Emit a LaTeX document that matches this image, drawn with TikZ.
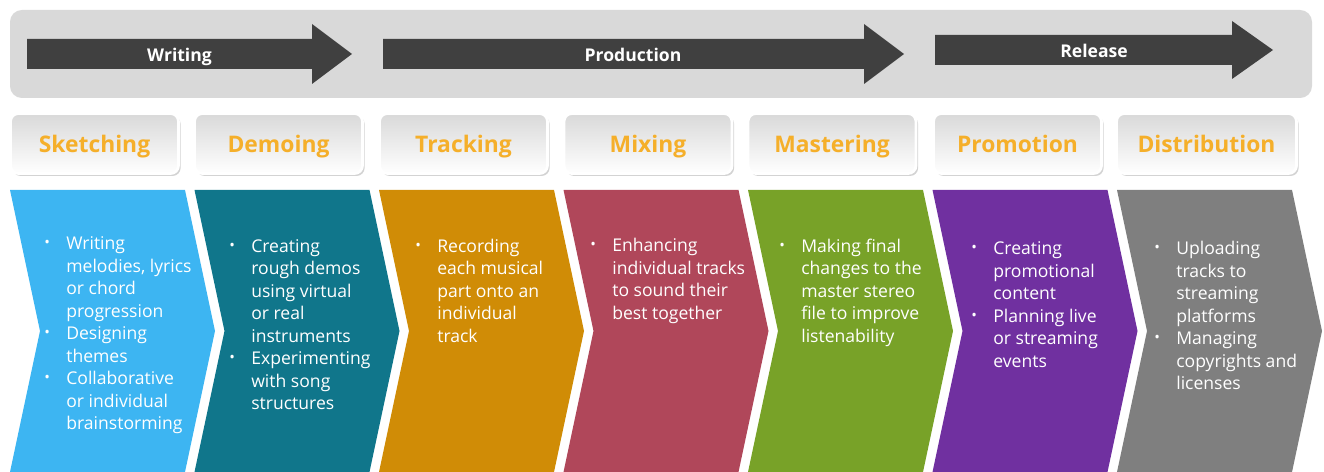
\documentclass[tikz,border=0pt]{standalone}
\usepackage{fontspec}
\setmainfont{Open Sans}
\usetikzlibrary{shadows}

\definecolor{bandgrey}{HTML}{D9D9D9}
\definecolor{arrowgrey}{HTML}{404040}
\definecolor{stageorange}{HTML}{F5AF2A}
\definecolor{skyblue}{HTML}{3DB5F2}
\definecolor{tealblue}{HTML}{10768B}
\definecolor{ochre}{HTML}{D08C06}
\definecolor{rose}{HTML}{B0475A}
\definecolor{grassgreen}{HTML}{78A228}
\definecolor{royalpurple}{HTML}{7030A0}
\definecolor{midgrey}{HTML}{7F7F7F}

\newcommand{\bul}{\raisebox{1.4pt}{\fontsize{8.5}{8.5}\selectfont\textbullet}}
\newenvironment{pts}{\begin{tabular}[t]{@{}p{12.5pt}@{}l@{}}}{\end{tabular}}

\begin{document}
\begin{tikzpicture}[x=0.02cm, y=-0.02cm,
		phase/.style={text=white, text height=8.8pt, text depth=0pt, font=\bfseries\fontsize{10}{12}\selectfont},
		stage/.style={draw=white, line width=1.6pt, rounded corners=4.5pt,
			top color=black!15, bottom color=white,
			minimum width=3.36cm, minimum height=1.2cm, text height=10.4pt, text depth=0pt,
			drop shadow={shadow xshift=1.2pt, shadow yshift=-1.4pt, opacity=0.35},
			text=stageorange, font=\bfseries\fontsize{13}{15}\selectfont},
		notes/.style={anchor=base west, inner sep=0pt, text=white, font=\fontsize{10}{12.8}\selectfont}]
	\useasboundingbox (0,0) rectangle (1324,472);

	% phases
	\fill[bandgrey, rounded corners=6.8pt] (10,10) rectangle (1312,98);
	\fill[arrowgrey] (27,39) -- (312,39) -- (312,24) -- (352,54) -- (312,84) -- (312,69) -- (27,69) -- cycle;
	\fill[arrowgrey] (383,39) -- (864,39) -- (864,24) -- (904,54) -- (864,84) -- (864,69) -- (383,69) -- cycle;
	\fill[arrowgrey] (935,35) -- (1232,35) -- (1232,21) -- (1273,50) -- (1232,79) -- (1232,65) -- (935,65) -- cycle;
	\node[phase] (writing) at (179.5,54) {Writing};
	\node[phase] (production) at (633,54) {Production};
	\node[phase] (release) at (1094,50) {Release};

	% stage labels
	\node[stage] (sketching) at (94.5,143.5) {Sketching};
	\node[stage] (demoing) at (278.5,143.5) {Demoing};
	\node[stage] (tracking) at (463.5,143.5) {Tracking};
	\node[stage] (mixing) at (648,143.5) {Mixing};
	\node[stage] (mastering) at (832,143.5) {Mastering};
	\node[stage] (promotion) at (1017.5,143.5) {Promotion};
	\node[stage, minimum width=3.6cm] (distribution) at (1206.5,143.5) {Distribution};

	% chevrons
	\foreach \xl/\col in {10/skyblue, 194.5/tealblue, 379/ochre, 563.5/rose, 748/grassgreen, 932.5/royalpurple, 1117/midgrey}
		\fill[\col] (\xl,190) -- ++(175,0) -- ++(30,141) -- ++(-30,141) -- ++(-175,0) -- ++(30,-141) -- cycle;

	\node[notes] (sketchingnotes) at (44,250) {\begin{pts}
		\bul & Writing\\ & melodies, lyrics\\ & or chord\\ & progression\\
		\bul & Designing\\ & themes\\
		\bul & Collaborative\\ & or individual\\ & brainstorming
	\end{pts}};
	\node[notes] (demoingnotes) at (229,252.5) {\begin{pts}
		\bul & Creating\\ & rough demos\\ & using virtual\\ & or real\\ & instruments\\
		\bul & Experimenting\\ & with song\\ & structures
	\end{pts}};
	\node[notes] (trackingnotes) at (415,252.5) {\begin{pts}
		\bul & Recording\\ & each musical\\ & part onto an\\ & individual\\ & track
	\end{pts}};
	\node[notes] (mixingnotes) at (590,252) {\begin{pts}
		\bul & Enhancing\\ & individual tracks\\ & to sound their\\ & best together
	\end{pts}};
	\node[notes] (masteringnotes) at (779,252.5) {\begin{pts}
		\bul & Making final\\ & changes to the\\ & master stereo\\ & file to improve\\ & listenability
	\end{pts}};
	\node[notes] (promotionnotes) at (971,255) {\begin{pts}
		\bul & Creating\\ & promotional\\ & content\\
		\bul & Planning live\\ & or streaming\\ & events
	\end{pts}};
	\node[notes] (distributionnotes) at (1154,255) {\begin{pts}
		\bul & Uploading\\ & tracks to\\ & streaming\\ & platforms\\
		\bul & Managing\\ & copyrights and\\ & licenses
	\end{pts}};
\end{tikzpicture}
\end{document}
